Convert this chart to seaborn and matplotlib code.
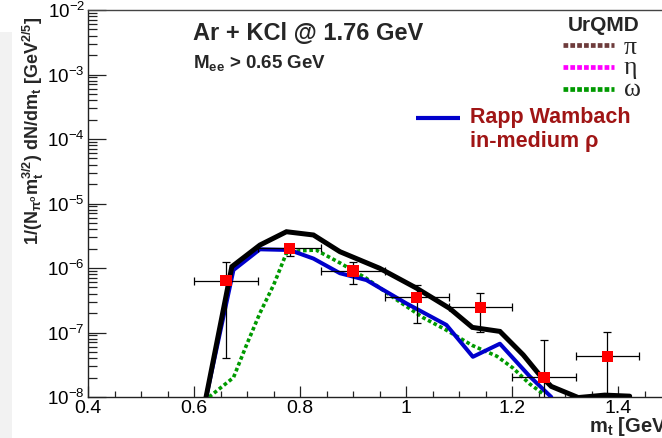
import matplotlib
matplotlib.use("Agg")
import matplotlib.pyplot as plt
import seaborn as sns
from matplotlib.lines import Line2D
from matplotlib.patches import Rectangle
from matplotlib.ticker import LogLocator, MultipleLocator, NullFormatter

# Total cocktail: UrQMD + Rapp-Wambach in-medium rho
mt_total = [0.620, 0.671, 0.724, 0.774, 0.825, 0.875, 0.950, 1.020, 1.082,
            1.125, 1.177, 1.221, 1.252, 1.274, 1.325, 1.375, 1.422]
y_total = [8.0e-9, 1.05e-6, 2.27e-6, 3.65e-6, 3.25e-6, 1.79e-6, 9.9e-7, 4.85e-7,
           2.37e-7, 1.20e-7, 1.04e-7, 4.5e-8, 2.2e-8, 1.46e-8, 9.8e-9, 1.07e-8, 1.03e-8]

# Rapp-Wambach in-medium rho
mt_rw = [0.620, 0.674, 0.724, 0.780, 0.825, 0.875, 0.925, 1.000, 1.076,
         1.126, 1.177, 1.233, 1.274]
y_rw = [8.0e-9, 9.3e-7, 1.95e-6, 1.90e-6, 1.40e-6, 8.3e-7, 6.5e-7, 2.84e-7,
        1.31e-7, 4.2e-8, 6.7e-8, 2.1e-8, 1.0e-8]

# UrQMD omega contribution
mt_omega = [0.628, 0.674, 0.699, 0.724, 0.750, 0.774, 0.800, 0.830, 0.875,
            0.925, 0.980, 1.032, 1.075, 1.125, 1.171, 1.202, 1.233, 1.260]
y_omega = [1.0e-8, 2.0e-8, 6.5e-8, 2.0e-7, 5.5e-7, 1.7e-6, 1.85e-6, 1.9e-6, 1.2e-6,
           6.9e-7, 3.3e-7, 1.7e-7, 1.1e-7, 6.3e-8, 4.3e-8, 2.8e-8, 1.6e-8, 1.1e-8]

# Measured spectrum, M_ee > 0.65 GeV
mt_data = [0.66, 0.78, 0.90, 1.02, 1.14, 1.26, 1.38]
y_data = [6.4e-7, 2.02e-6, 9.0e-7, 3.52e-7, 2.46e-7, 2.02e-8, 4.27e-8]
y_data_hi = [1.26e-6, 2.27e-6, 1.22e-6, 5.45e-7, 4.05e-7, 7.6e-8, 1.02e-7]
y_data_lo = [4.0e-8, 1.53e-6, 5.6e-7, 1.42e-7, 1.03e-7, 1.0e-9, 1.0e-9]
mt_halfwidth = 0.06

W, H = 662, 438
sns.set_theme(style="white")
plt.rcParams["font.family"] = ["Liberation Sans", "DejaVu Sans"]
plt.rcParams["mathtext.default"] = "regular"

fig = plt.figure(figsize=(W / 100, H / 100), dpi=100)
fig.patch.set_facecolor("white")


def fx(px):
    return px / W


def fy(py):
    return 1 - py / H


# light panel strip on the left edge
fig.patches.append(Rectangle((0, 0), fx(12), fy(32), transform=fig.transFigure,
                             facecolor="#f2f2f2", edgecolor="none", zorder=0))

ax_l, ax_r, ax_t, ax_b = 88.3, 671.0, 10.0, 397.0
ax = fig.add_axes([fx(ax_l), fy(ax_b), fx(ax_r - ax_l), (ax_b - ax_t) / H])
ax.set_facecolor("white")

ax.set_yscale("log")
ax.set_xlim(0.4, 1.5)
ax.set_ylim(1e-8, 1e-2)

sns.lineplot(x=mt_omega, y=y_omega, ax=ax, color="#009a00", lw=2.6, sort=False,
             estimator=None, linestyle=(0, (1.0, 0.75)), dash_capstyle="butt", zorder=3)
sns.lineplot(x=mt_rw, y=y_rw, ax=ax, color="#0000cc", lw=2.9, sort=False,
             estimator=None, zorder=4)
sns.lineplot(x=mt_total, y=y_total, ax=ax, color="black", lw=3.6, sort=False,
             estimator=None, solid_joinstyle="miter", zorder=5)

yerr = [[v - lo for v, lo in zip(y_data, y_data_lo)],
        [hi - v for v, hi in zip(y_data, y_data_hi)]]
ax.errorbar(mt_data, y_data, xerr=mt_halfwidth, yerr=yerr, fmt="none",
            ecolor="black", elinewidth=0.9, capsize=2.6, capthick=0.9, zorder=6)
sns.scatterplot(x=mt_data, y=y_data, ax=ax, marker="s", s=68, color="#ff0000",
                edgecolor="none", zorder=7)

# axes frame and ticks
for side in ["left", "bottom", "top", "right"]:
    ax.spines[side].set_visible(True)
    ax.spines[side].set_color("#222222")
    ax.spines[side].set_linewidth(1.0)
ax.spines["top"].set_color("#444444")

ax.xaxis.set_major_locator(MultipleLocator(0.2))
ax.xaxis.set_minor_locator(MultipleLocator(0.05))
ax.xaxis.set_major_formatter(plt.FuncFormatter(lambda v, p: f"{v:g}"))
ax.yaxis.set_major_locator(LogLocator(base=10, numticks=20))
ax.yaxis.set_minor_locator(LogLocator(base=10, subs=range(2, 10), numticks=20))
ax.yaxis.set_minor_formatter(NullFormatter())

ax.tick_params(axis="x", which="major", direction="in", length=8, width=0.9,
               labelsize=14, pad=2.0, colors="#222222", labelcolor="black",
               top=False, bottom=True)
ax.tick_params(axis="x", which="minor", direction="in", length=4, width=0.9,
               colors="#222222", top=False, bottom=True)
ax.tick_params(axis="y", which="major", direction="in", length=13, width=0.9,
               labelsize=13.5, pad=2.5, colors="#222222", labelcolor="black",
               right=False, left=True)
ax.tick_params(axis="y", which="minor", direction="in", length=6.5, width=0.9,
               colors="#222222", right=False, left=True)

ax.set_xlabel(r"m$_{t}$ [GeV]", fontsize=14.5, fontweight="bold", ha="left", va="center")
ax.xaxis.set_label_coords((589 - ax_l) / (ax_r - ax_l), (ax_b - 427) / (ax_b - ax_t))
ax.set_ylabel(r"1/(N$_{\pi^{o}}$m$_{t}^{3/2}$) dN/dm$_{t}$ [GeV$^{2/5}$]",
              fontsize=13, fontweight="bold", ha="center", va="center")
ax.yaxis.set_label_coords((33 - ax_l) / (ax_r - ax_l), (ax_b - 131) / (ax_b - ax_t))

# titles
fig.text(fx(193), fy(40), "Ar + KCl @ 1.76 GeV", fontsize=17, fontweight="bold",
         ha="left", va="baseline")
fig.text(fx(193), fy(68.3), r"M$_{ee}$ > 0.65 GeV", fontsize=13.5, fontweight="bold",
         ha="left", va="baseline")

# UrQMD key
fig.text(fx(603.5), fy(30.7), "UrQMD", fontsize=15, fontweight="bold",
         ha="center", va="baseline")
key_colors = ["#6e3c3c", "#ff00ff", "#009a00"]
key_labels = ["\u03c0", "\u03b7", "\u03c9"]
key_line_y = [45, 67, 89]
key_text_y = [54, 74, 96]
for c, lab, ly, ty in zip(key_colors, key_labels, key_line_y, key_text_y):
    fig.add_artist(Line2D([fx(563), fx(614)], [fy(ly), fy(ly)], transform=fig.transFigure,
                          color=c, lw=3.4, linestyle=(0, (1.0, 0.45)),
                          dash_capstyle="butt"))
    fig.text(fx(624), fy(ty), lab, fontsize=18.5, family=["Liberation Serif", "DejaVu Serif"],
             ha="left", va="baseline")

# in-medium rho key
fig.add_artist(Line2D([fx(416), fx(460)], [fy(118), fy(118)], transform=fig.transFigure,
                      color="#0000cc", lw=3.0, solid_capstyle="butt"))
fig.text(fx(470), fy(123.3), "Rapp Wambach", fontsize=15.5, fontweight="bold",
         color="#a01515", ha="left", va="baseline")
fig.text(fx(470), fy(146.7), "in-medium \u03c1", fontsize=15.5, fontweight="bold",
         color="#a01515", ha="left", va="baseline")

fig.savefig("out.png", dpi=100)
